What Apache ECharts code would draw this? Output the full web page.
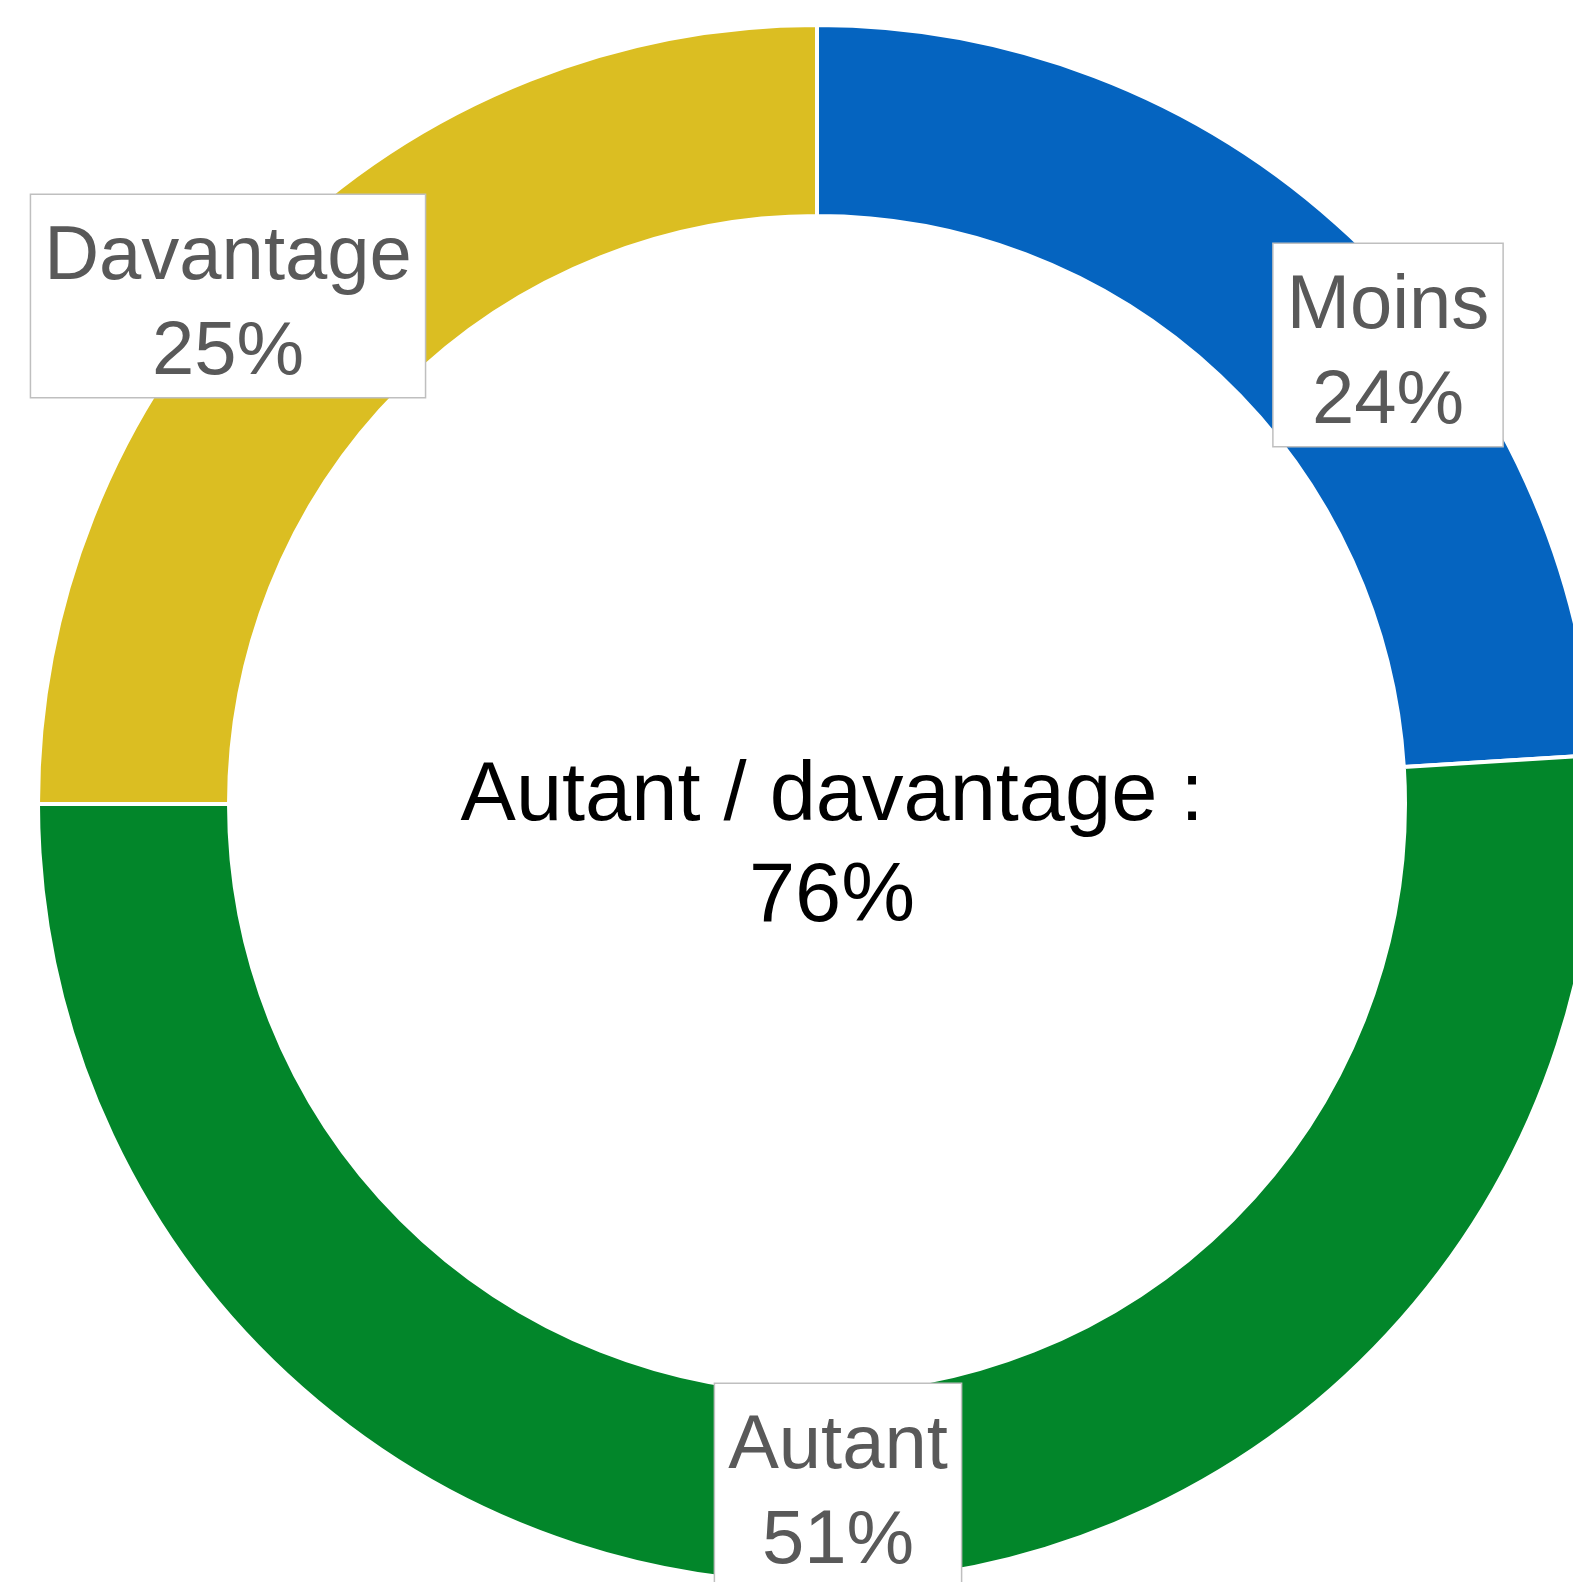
<!DOCTYPE html>
<html>
<head>
<meta charset="utf-8">
<script src="https://cdn.jsdelivr.net/npm/echarts@6/dist/echarts.min.js"></script>
<style>
html,body{margin:0;padding:0;background:#fff;}
#main{width:1573px;height:1582px;}
</style>
</head>
<body>
<div id="main"></div>
<script>
const categories = ['Moins', 'Autant', 'Davantage'];
const values = [24, 51, 25];
const colors = ['#0564C0', '#02862A', '#DBBE22'];
const centerTitle = 'Autant / davantage :';
const labelPos = {Moins: [1388, 345], Autant: [838, 1485], Davantage: [228, 296]};

const chart = echarts.init(document.getElementById('main'), null, {renderer: 'canvas'});
const total = values[1] + values[2];
chart.setOption({
  animation: false,
  backgroundColor: '#ffffff',
  graphic: [{
    type: 'text',
    x: 832,
    y: 747,
    style: {
      text: centerTitle + '\n' + total + '%',
      align: 'center',
      verticalAlign: 'top',
      font: '83px "Liberation Sans", Arial, sans-serif',
      fill: '#000000',
      lineHeight: 101
    }
  }],
  series: [{
    type: 'pie',
    center: [817, 804],
    radius: [588, 779],
    startAngle: 90,
    clockwise: true,
    avoidLabelOverlap: false,
    itemStyle: {borderColor: '#ffffff', borderWidth: 4},
    label: {
      show: true,
      position: 'outside',
      formatter: '{t|{b}}\n{t|{c}%}',
      fontFamily: '"Liberation Sans", Arial, sans-serif',
      fontSize: 76,
      lineHeight: 95,
      color: '#595959',
      backgroundColor: '#ffffff',
      borderColor: '#BFBFBF',
      borderWidth: 1.5,
      padding: [6, 13, 6, 13],
      align: 'center',
      rich: {
        t: {
          fontFamily: '"Liberation Sans", Arial, sans-serif',
          fontSize: 76,
          lineHeight: 95,
          color: '#595959',
          verticalAlign: 'bottom'
        }
      }
    },
    labelLine: {show: false},
    labelLayout: function (p) {
      const name = categories[p.dataIndex];
      const pos = labelPos[name];
      return {x: pos[0], y: pos[1], align: 'center', verticalAlign: 'middle', moveOverlap: false};
    },
    emphasis: {disabled: true},
    data: categories.map((c, i) => ({name: c, value: values[i], itemStyle: {color: colors[i]}}))
  }]
});
</script>
</body>
</html>
